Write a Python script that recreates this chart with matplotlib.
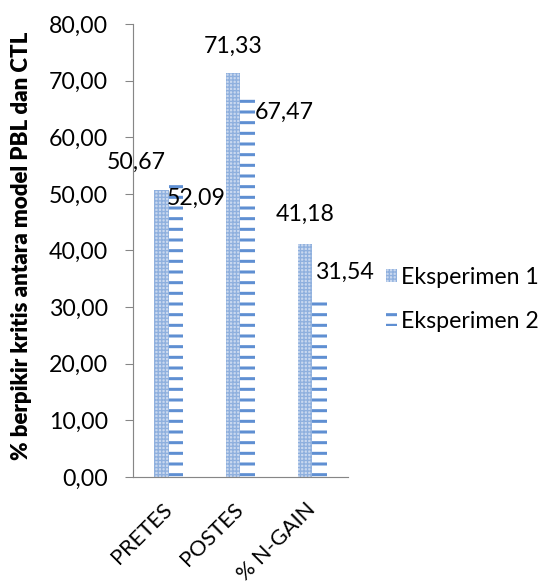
import numpy as np
import matplotlib.pyplot as plt
from matplotlib.ticker import FuncFormatter

categories = ['PRETES', 'POSTES', '% N-GAIN']
series_names = ['Eksperimen 1', 'Eksperimen 2']
eksperimen_1 = [50.67, 71.33, 41.18]
eksperimen_2 = [52.09, 67.47, 31.54]
y_ticks = [0, 10, 20, 30, 40, 50, 60, 70, 80]

# label nudges in pixels (dx, dy) from the top centre of each bar
offsets_1 = [(-25, 28), (0, 27), (0, 29)]
offsets_2 = [(20, -16), (37, -17), (25, 26)]

DPI = 64
plt.rcParams['font.family'] = ['Lato', 'DejaVu Sans']


def fmt(v):
    return f"{v:.2f}".replace('.', ',')


fig = plt.figure(figsize=(558 / DPI, 585 / DPI), dpi=DPI)
ax = fig.add_axes([133 / 558, 1 - 477 / 585, 215 / 558, 453 / 585])

x = np.arange(len(categories))
width = 0.2

b1 = ax.bar(x - width / 2, eksperimen_1, width, facecolor='#c9d8ef',
            edgecolor='#8fb0de', hatch='+++', linewidth=0,
            label=series_names[0])
b2 = ax.bar(x + width / 2, eksperimen_2, width, facecolor='white',
            edgecolor='#5f8fd2', hatch='-', linewidth=0,
            label=series_names[1])
for p in b1:
    p.set_hatch_linewidth(1.5)
for p in b2:
    p.set_hatch_linewidth(3.4)

fs = 26
for bars, vals, offs in [(b1, eksperimen_1, offsets_1), (b2, eksperimen_2, offsets_2)]:
    for bar, v, (dx, dy) in zip(bars, vals, offs):
        ax.annotate(fmt(v), (bar.get_x() + bar.get_width() / 2, v),
                    xytext=(dx, dy), textcoords='offset pixels',
                    ha='center', va='center', fontsize=fs, color='black')

ax.set_xlim(-0.5, len(categories) - 0.5)
ax.set_ylim(0, 80)
ax.set_yticks(y_ticks)
ax.yaxis.set_major_formatter(FuncFormatter(lambda v, p: fmt(v)))
ax.tick_params(axis='y', direction='out', length=9, width=1.2, color='#868686',
               labelsize=fs, pad=19)
ax.set_xticks(x)
ax.set_xticklabels(categories, rotation=45, ha='right', va='center',
                   rotation_mode='anchor', fontsize=24.5)
ax.tick_params(axis='x', length=0, pad=33)

for side in ['top', 'right']:
    ax.spines[side].set_visible(False)
for side in ['left', 'bottom']:
    ax.spines[side].set_color('#868686')
    ax.spines[side].set_linewidth(1.3)

fig.text(22 / 558, 1 - 246 / 585, '% berpikir kritis antara model PBL dan CTL',
         rotation=90, ha='center', va='center', fontsize=25, fontweight='heavy')

leg = fig.legend(handles=[b1, b2], labels=series_names, loc='upper left',
                 bbox_to_anchor=(374 / 558, 1 - 255 / 585), frameon=False,
                 fontsize=fs, handlelength=0.5, handleheight=0.5,
                 handletextpad=0.15, labelspacing=1.0, borderpad=0)
for h, lw in zip(leg.legend_handles, [1.5, 3.4]):
    h.set_hatch_linewidth(lw)

fig.savefig('out.png', dpi=DPI)
